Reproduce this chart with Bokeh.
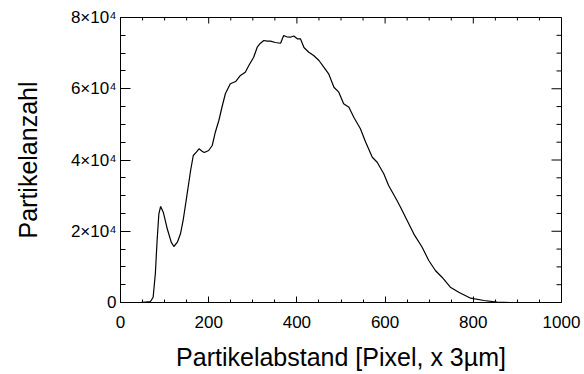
import math
from bokeh.plotting import figure
from bokeh.models import Range1d, LinearAxis, SingleIntervalTicker
from bokeh.embed import file_html
from bokeh.resources import INLINE

# Data
abstand = [0, 45, 68, 74, 79, 83, 87, 91, 97, 106, 115, 121, 129, 136, 142, 150, 159, 165,
           172, 178, 185, 190, 200, 208, 215, 223, 231, 238, 249, 261, 272, 283, 291, 302,
           310, 316, 325, 333, 340, 351, 363, 370, 378, 385, 393, 401, 408, 416, 427, 438,
           450, 461, 472, 484, 495, 506, 518, 529, 544, 556, 571, 582, 597, 608, 627, 635,
           650, 665, 684, 699, 714, 729, 748, 767, 794, 824, 854, 884, 960]
anzahl = [0, 0, 280, 1490, 8060, 17400, 24900, 26950, 25350, 20690, 16930, 15720, 16930,
          19280, 23020, 29560, 37050, 41260, 42190, 43140, 42470, 42100, 42670, 44070, 47800,
          51090, 55300, 58670, 61390, 62030, 63720, 64640, 66530, 68860, 71660, 72620, 73540,
          73350, 73350, 72980, 72780, 74950, 74520, 74470, 74800, 74020, 74020, 71580, 70260,
          69330, 67930, 66050, 64200, 60430, 59030, 55780, 54820, 52010, 48760, 45000, 40780,
          39380, 36130, 32840, 28630, 26750, 23020, 19280, 15520, 11790, 8980, 7100, 4290,
          2890, 1210, 560, 80, 0, 0]

x_ticks = [0, 200, 400, 600, 800, 1000]
x_tick_labels = ["0", "200", "400", "600", "800", "1000"]
y_ticks = [0, 20000, 40000, 60000, 80000]
y_tick_labels = ["0", "2×10⁴", "4×10⁴", "6×10⁴", "8×10⁴"]
n_minor = 4  # intervals between major ticks

FONT = "Liberation Sans"

p = figure(width=584, height=374, output_backend="svg", toolbar_location=None,
           x_range=Range1d(0, 1000), y_range=Range1d(0, 80000),
           x_axis_type=None, y_axis_type=None,
           min_border_left=120, min_border_right=23, min_border_top=17, min_border_bottom=72)
p.outline_line_color = "black"
p.outline_line_width = 1
p.background_fill_color = "white"
p.border_fill_color = "white"
p.grid.visible = False

def make_axis(interval, ticks, labels, tick_major, tick_minor, title):
    ax = LinearAxis(ticker=SingleIntervalTicker(interval=interval, num_minor_ticks=n_minor))
    ax.major_tick_in = tick_major
    ax.major_tick_out = 0
    ax.minor_tick_in = tick_minor
    ax.minor_tick_out = 0
    ax.axis_line_color = "black"
    ax.major_tick_line_color = "black"
    ax.minor_tick_line_color = "black"
    ax.major_label_overrides = {t: l for t, l in zip(ticks, labels)}
    ax.major_label_text_font = FONT
    ax.major_label_text_font_size = "17px"
    ax.major_label_text_color = "black"
    ax.axis_label = title
    ax.axis_label_text_font = FONT
    ax.axis_label_text_font_size = "25px"
    ax.axis_label_text_font_style = "normal"
    ax.axis_label_text_color = "black"
    return ax

xb = make_axis(200, x_ticks, x_tick_labels, 6, 3, "Partikelabstand [Pixel, x 3µm]")
xb.major_label_standoff = 13
xb.axis_label_standoff = 12
yl = make_axis(20000, y_ticks, y_tick_labels, 10, 5, "Partikelanzahl")
yl.major_label_standoff = 4
yl.axis_label_standoff = 26
p.add_layout(xb, "below")
p.add_layout(yl, "left")

# unlabeled ticks on the top and right edges (IDL style box)
x_step = x_ticks[1] - x_ticks[0]
y_step = y_ticks[1] - y_ticks[0]
x_minor = [t + k * x_step / n_minor for t in x_ticks[:-1] for k in range(1, n_minor)]
y_minor = [t + k * y_step / n_minor for t in y_ticks[:-1] for k in range(1, n_minor)]
x_top = x_ticks[-1]
y_top = y_ticks[-1]
p.ray(x=x_ticks, y=[y_top] * len(x_ticks), length=6, length_units="screen",
      angle=-math.pi / 2, line_color="black", line_width=1)
p.ray(x=x_minor, y=[y_top] * len(x_minor), length=3, length_units="screen",
      angle=-math.pi / 2, line_color="black", line_width=1)
p.ray(x=[x_top] * len(y_ticks), y=y_ticks, length=10, length_units="screen",
      angle=math.pi, line_color="black", line_width=1)
p.ray(x=[x_top] * len(y_minor), y=y_minor, length=5, length_units="screen",
      angle=math.pi, line_color="black", line_width=1)

p.line(abstand, anzahl, line_color="black", line_width=1.2)

open("out.html", "w").write(file_html(p, INLINE))
